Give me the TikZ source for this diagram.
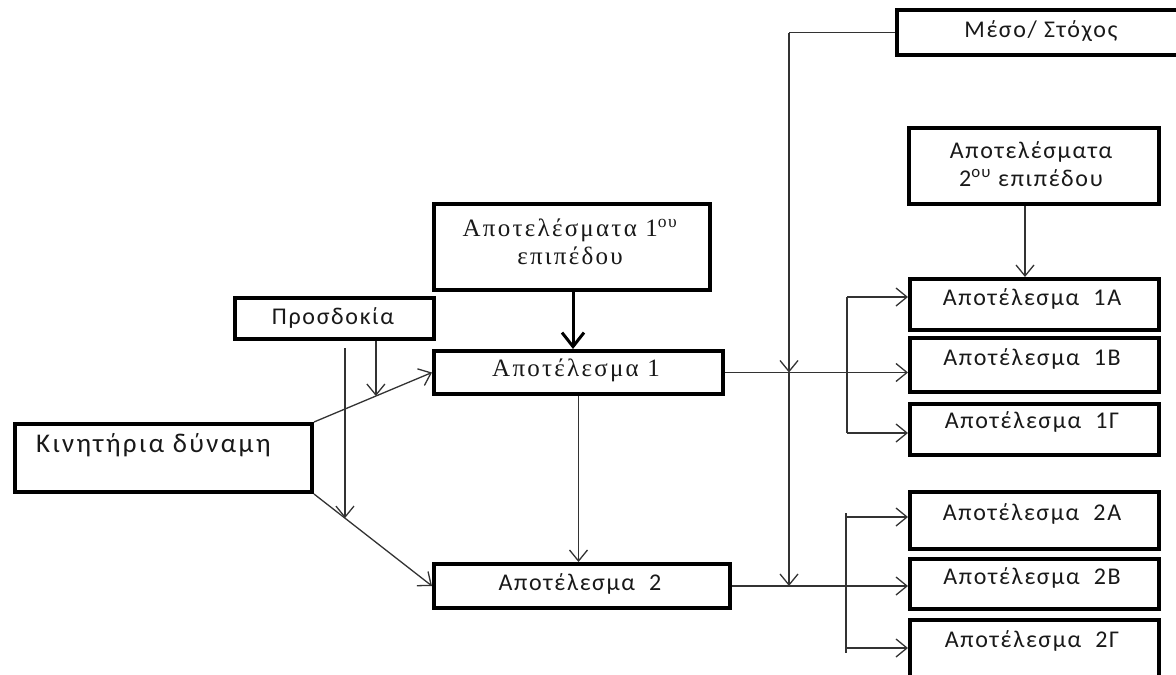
\documentclass[tikz,border=0pt]{standalone}
\usepackage{fontspec}
\setmainfont{Carlito}[LetterSpace=7]
\newfontfamily\serifgr{Liberation Serif}[LetterSpace=9]
\newfontfamily\kinfont{Carlito}[LetterSpace=9]
\usetikzlibrary{arrows.meta,calc}
\begin{document}
\begin{tikzpicture}[x=1pt,y=-1pt,
  box/.style={draw=black,line width=4pt,fill=white,anchor=north west,inner sep=0pt},
  txt/.style={font=\fontsize{24}{28}\selectfont,align=center,inner sep=0pt,text=black!90},
  stxt/.style={font=\serifgr\fontsize{25}{28}\selectfont,align=center,inner sep=0pt,text=black!90},
  conn/.style={draw=black!80,line width=1.3pt},
  arr/.style={conn,-{Straight Barb[length=11pt,width=18pt,line width=1.3pt]}},
  bigarr/.style={draw=black,line width=3pt,-{Straight Barb[length=14pt,width=22pt,line width=3pt]}}]
\useasboundingbox (0,0) rectangle (1176,675);
% boxes
\node[box,minimum width=290pt,minimum height=45pt] (meso) at (895,8) {};
\node[txt] at (1041,31) {Μέσο/ Στόχος};
\node[box,minimum width=250pt,minimum height=76pt] (lvl2) at (907,126) {};
\node[txt] at (1031,164) {Αποτελέσματα\\2\textsuperscript{ου} επιπέδου};
\node[box,minimum width=249pt,minimum height=51pt] (r1a) at (908,277) {};
\node[txt] at (1032,299) {Αποτέλεσμα\ \ 1Α};
\node[box,minimum width=249pt,minimum height=54pt] (r1b) at (908,336) {};
\node[txt] at (1032,359) {Αποτέλεσμα\ \ 1Β};
\node[box,minimum width=249pt,minimum height=51pt] (r1g) at (908,402) {};
\node[txt] at (1032,422) {Αποτέλεσμα\ \ 1Γ};
\node[box,minimum width=249pt,minimum height=57pt] (r2a) at (908,490) {};
\node[txt] at (1032,514) {Αποτέλεσμα\ \ 2Α};
\node[box,minimum width=249pt,minimum height=50pt] (r2b) at (908,557) {};
\node[txt] at (1032,578) {Αποτέλεσμα\ \ 2Β};
\node[box,minimum width=249pt,minimum height=62pt] (r2g) at (908,618) {};
\node[txt] at (1032,641) {Αποτέλεσμα\ \ 2Γ};
\node[box,minimum width=276pt,minimum height=86pt] (lvl1) at (432,202) {};
\node[stxt] at (570,242) {Αποτελέσματα 1\textsuperscript{ου}\\επιπέδου};
\node[box,minimum width=289pt,minimum height=43pt] (a1) at (432,349) {};
\node[stxt] at (576,370) {Αποτέλεσμα 1};
\node[box,minimum width=296pt,minimum height=44pt] (a2) at (432,562) {};
\node[txt] at (580,584) {Αποτέλεσμα\ \ 2};
\node[box,minimum width=199pt,minimum height=41pt] (pros) at (233,296) {};
\node[txt] at (333,318) {Προσδοκία};
\node[box,minimum width=297pt,minimum height=68pt] (kin) at (13,422) {};
\node[txt,anchor=west,font=\kinfont\fontsize{27}{30}\selectfont] at (36,445) {Κινητήρια δύναμη};
% connectors
\draw[arr] (kin.north east) -- (a1.west);
\draw[arr] (kin.south east) -- (a2.west);
\coordinate (pu) at ($(kin.north east)!0.5246!(a1.west)$);
\draw[arr] (pu |- pros.south) -- (pu);
\coordinate (pl) at ($(kin.south east)!0.2623!(a2.west)$);
\coordinate (ps) at (pl |- 0,348);
\draw[arr] (ps) -- (pl);
\draw[bigarr] (lvl1.south -| 573,0) -- (a1.north -| 573,0);
\draw[arr] (a1.south) -- (a1.south |- a2.north);
\draw[arr] (lvl2.south -| 1025,0) -- (r1a.north -| 1025,0);
% level 1 fan-out
\draw[arr] (a1.east) -- (a1.east -| r1b.west);
\coordinate (f1t) at (847,297);
\coordinate (f1b) at (847,433);
\draw[conn] (f1t) -- (f1b);
\draw[arr] (f1t) -- (f1t -| r1a.west);
\draw[arr] (f1b) -- (f1b -| r1g.west);
% level 2 fan-out
\draw[arr] (a2.east) -- (a2.east -| r2b.west);
\coordinate (f2t) at (846,513);
\coordinate (f2b) at (846,653);
\draw[conn] (f2t) -- (f2b);
\draw[arr] (846,517) -- (r2a.west |- 0,517);
\draw[arr] (846,648) -- (r2g.west |- 0,648);
% means / goal
\coordinate (mc) at (789,0);
\coordinate (m1) at (a1.east -| mc);
\coordinate (m2) at (a2.east -| mc);
\draw[conn] (meso.west) -- (meso.west -| mc);
\draw[arr] (meso.west -| mc) -- (m1);
\draw[arr] (m1) -- (m2);
\end{tikzpicture}
\end{document}
